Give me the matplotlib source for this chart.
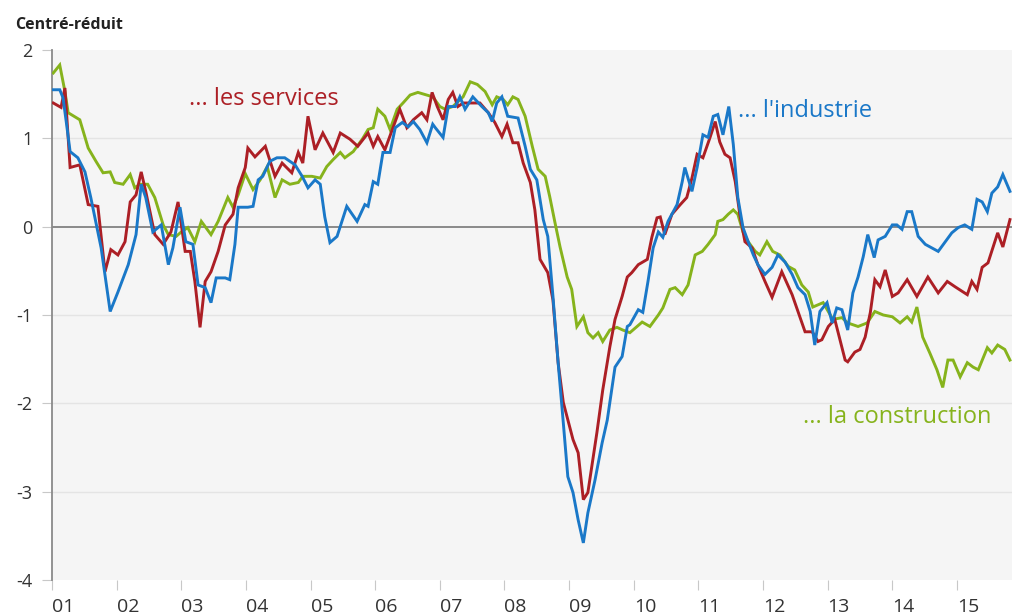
import matplotlib
matplotlib.use("Agg")
import matplotlib.pyplot as plt
import numpy as np

# ---- data (decimal years, centred-reduced values) ----
services_t = [2001.02, 2001.14, 2001.20, 2001.28, 2001.43, 2001.56, 2001.71, 2001.82, 2001.91, 2002.02,
              2002.13, 2002.21, 2002.30, 2002.38, 2002.45, 2002.59, 2002.72, 2002.84, 2002.95, 2003.06,
              2003.14, 2003.21, 2003.29, 2003.37, 2003.46, 2003.57, 2003.68, 2003.80, 2003.88, 2003.99,
              2004.03, 2004.14, 2004.30, 2004.45, 2004.56, 2004.71, 2004.81, 2004.88, 2004.96, 2005.07,
              2005.19, 2005.35, 2005.46, 2005.61, 2005.73, 2005.89, 2005.97, 2006.04, 2006.15, 2006.28,
              2006.38, 2006.49, 2006.59, 2006.72, 2006.80, 2006.88, 2006.96, 2007.05, 2007.13, 2007.20,
              2007.28, 2007.36, 2007.47, 2007.62, 2007.75, 2007.85, 2007.96, 2008.04, 2008.13, 2008.21,
              2008.29, 2008.40, 2008.47, 2008.55, 2008.67, 2008.75, 2008.83, 2008.91, 2009.06, 2009.14,
              2009.22, 2009.29, 2009.43, 2009.52, 2009.63, 2009.71, 2009.82, 2009.90, 2009.97, 2010.07,
              2010.21, 2010.28, 2010.36, 2010.41, 2010.48, 2010.59, 2010.72, 2010.82, 2010.90, 2010.98,
              2011.07, 2011.18, 2011.26, 2011.33, 2011.41, 2011.49, 2011.57, 2011.64, 2011.72, 2011.83,
              2011.92, 2012.03, 2012.14, 2012.29, 2012.45, 2012.54, 2012.65, 2012.76, 2012.85, 2012.91,
              2013.01, 2013.11, 2013.19, 2013.27, 2013.31, 2013.42, 2013.50, 2013.58, 2013.66, 2013.73,
              2013.81, 2013.89, 2014.00, 2014.09, 2014.23, 2014.38, 2014.55, 2014.71, 2014.85, 2014.97,
              2015.16, 2015.23, 2015.31, 2015.39, 2015.48, 2015.63, 2015.71, 2015.82]
services_v = [1.40, 1.35, 1.57, 0.67, 0.70, 0.25, 0.23, -0.51, -0.26, -0.32,
              -0.17, 0.28, 0.36, 0.62, 0.40, -0.09, -0.20, -0.06, 0.28, -0.28,
              -0.28, -0.62, -1.14, -0.62, -0.51, -0.28, 0.02, 0.14, 0.44, 0.67,
              0.89, 0.79, 0.91, 0.57, 0.72, 0.61, 0.84, 0.72, 1.25, 0.87,
              1.06, 0.84, 1.06, 0.99, 0.91, 1.06, 0.91, 1.02, 0.87, 1.13,
              1.33, 1.12, 1.21, 1.29, 1.21, 1.52, 1.36, 1.21, 1.44, 1.52,
              1.36, 1.40, 1.40, 1.40, 1.29, 1.18, 1.02, 1.16, 0.95, 0.95,
              0.72, 0.50, 0.19, -0.37, -0.52, -0.83, -1.54, -1.99, -2.41, -2.56,
              -3.09, -3.01, -2.33, -1.85, -1.36, -1.05, -0.79, -0.57, -0.52, -0.43,
              -0.37, -0.12, 0.10, 0.11, -0.09, 0.14, 0.25, 0.33, 0.55, 0.82,
              0.78, 1.01, 1.19, 0.96, 0.82, 0.78, 0.51, 0.14, -0.17, -0.24,
              -0.43, -0.62, -0.80, -0.51, -0.77, -0.96, -1.19, -1.19, -1.30, -1.28,
              -1.13, -1.05, -1.28, -1.51, -1.53, -1.42, -1.39, -1.25, -0.97, -0.60,
              -0.68, -0.49, -0.79, -0.75, -0.60, -0.79, -0.57, -0.75, -0.62, -0.68,
              -0.77, -0.62, -0.71, -0.46, -0.41, -0.07, -0.23, 0.08]

industrie_t = [2001.02, 2001.12, 2001.17, 2001.22, 2001.28, 2001.40, 2001.51, 2001.60, 2001.76, 2001.90,
               2002.02, 2002.18, 2002.30, 2002.38, 2002.45, 2002.56, 2002.69, 2002.80, 2002.87, 2002.98,
               2003.07, 2003.18, 2003.26, 2003.37, 2003.46, 2003.54, 2003.68, 2003.75, 2003.83, 2003.88,
               2004.03, 2004.11, 2004.19, 2004.26, 2004.37, 2004.48, 2004.60, 2004.76, 2004.87, 2004.96,
               2005.07, 2005.15, 2005.22, 2005.30, 2005.41, 2005.56, 2005.72, 2005.84, 2005.89, 2005.97,
               2006.04, 2006.12, 2006.23, 2006.31, 2006.42, 2006.51, 2006.59, 2006.69, 2006.80, 2006.89,
               2006.93, 2007.05, 2007.13, 2007.24, 2007.31, 2007.39, 2007.51, 2007.65, 2007.75, 2007.81,
               2007.88, 2007.96, 2008.05, 2008.21, 2008.32, 2008.40, 2008.50, 2008.60, 2008.67, 2008.75,
               2008.83, 2008.91, 2008.98, 2009.06, 2009.14, 2009.22, 2009.29, 2009.40, 2009.51, 2009.59,
               2009.71, 2009.82, 2009.90, 2009.94, 2010.07, 2010.14, 2010.22, 2010.30, 2010.38, 2010.45,
               2010.53, 2010.67, 2010.75, 2010.79, 2010.90, 2010.98, 2011.07, 2011.15, 2011.23, 2011.30,
               2011.38, 2011.47, 2011.54, 2011.61, 2011.69, 2011.77, 2011.85, 2011.92, 2012.03, 2012.14,
               2012.23, 2012.34, 2012.45, 2012.54, 2012.65, 2012.73, 2012.80, 2012.88, 2012.99, 2013.07,
               2013.14, 2013.22, 2013.31, 2013.39, 2013.47, 2013.55, 2013.62, 2013.72, 2013.78, 2013.89,
               2014.00, 2014.07, 2014.15, 2014.23, 2014.30, 2014.40, 2014.51, 2014.61, 2014.71, 2014.82,
               2014.92, 2015.02, 2015.12, 2015.23, 2015.31, 2015.39, 2015.47, 2015.54, 2015.63, 2015.71,
               2015.82]
industrie_v = [1.55, 1.55, 1.46, 1.19, 0.85, 0.78, 0.62, 0.33, -0.24, -0.96,
               -0.74, -0.43, -0.09, 0.48, 0.33, -0.06, 0.02, -0.43, -0.24, 0.22,
               -0.17, -0.20, -0.66, -0.69, -0.86, -0.58, -0.58, -0.60, -0.20, 0.22,
               0.22, 0.23, 0.53, 0.57, 0.74, 0.78, 0.78, 0.70, 0.57, 0.44,
               0.53, 0.48, 0.11, -0.18, -0.11, 0.23, 0.06, 0.25, 0.23, 0.51,
               0.48, 0.84, 0.84, 1.12, 1.18, 1.13, 1.19, 1.10, 0.95, 1.16,
               1.12, 1.01, 1.36, 1.36, 1.47, 1.33, 1.47, 1.36, 1.29, 1.19,
               1.40, 1.47, 1.25, 1.23, 0.91, 0.65, 0.53, 0.08, -0.11, -0.79,
               -1.54, -2.22, -2.83, -3.01, -3.32, -3.58, -3.24, -2.87, -2.45, -2.19,
               -1.59, -1.47, -1.13, -1.11, -0.94, -0.97, -0.62, -0.24, -0.06, -0.12,
               0.06, 0.25, 0.51, 0.67, 0.40, 0.67, 1.04, 1.01, 1.25, 1.27,
               1.04, 1.36, 0.93, 0.33, -0.01, -0.17, -0.32, -0.43, -0.54, -0.46,
               -0.32, -0.40, -0.54, -0.69, -0.77, -0.96, -1.34, -0.96, -0.86, -1.09,
               -0.92, -0.94, -1.17, -0.75, -0.57, -0.34, -0.09, -0.35, -0.15, -0.11,
               0.02, 0.02, -0.03, 0.17, 0.17, -0.11, -0.20, -0.24, -0.28, -0.17,
               -0.07, -0.01, 0.02, -0.03, 0.31, 0.28, 0.17, 0.38, 0.45, 0.59,
               0.40]

construction_t = [2001.02, 2001.12, 2001.20, 2001.25, 2001.43, 2001.56, 2001.68, 2001.79, 2001.90, 2001.97,
                  2002.10, 2002.21, 2002.28, 2002.36, 2002.48, 2002.59, 2002.72, 2002.80, 2002.92, 2003.00,
                  2003.10, 2003.21, 2003.31, 2003.46, 2003.57, 2003.72, 2003.80, 2003.88, 2003.99, 2004.11,
                  2004.22, 2004.33, 2004.45, 2004.56, 2004.68, 2004.81, 2004.88, 2005.02, 2005.15, 2005.25,
                  2005.35, 2005.46, 2005.53, 2005.66, 2005.80, 2005.89, 2005.97, 2006.04, 2006.15, 2006.23,
                  2006.34, 2006.43, 2006.54, 2006.66, 2006.80, 2006.89, 2007.00, 2007.08, 2007.20, 2007.36,
                  2007.47, 2007.58, 2007.70, 2007.81, 2007.88, 2007.98, 2008.05, 2008.13, 2008.21, 2008.32,
                  2008.43, 2008.52, 2008.63, 2008.70, 2008.78, 2008.86, 2008.97, 2009.04, 2009.12, 2009.22,
                  2009.29, 2009.37, 2009.45, 2009.52, 2009.63, 2009.74, 2009.83, 2009.94, 2010.13, 2010.25,
                  2010.38, 2010.45, 2010.56, 2010.64, 2010.75, 2010.84, 2010.95, 2011.06, 2011.15, 2011.26,
                  2011.30, 2011.38, 2011.46, 2011.54, 2011.61, 2011.69, 2011.77, 2011.88, 2011.95, 2012.06,
                  2012.15, 2012.26, 2012.39, 2012.49, 2012.60, 2012.70, 2012.77, 2012.93, 2013.08, 2013.22,
                  2013.31, 2013.47, 2013.61, 2013.73, 2013.86, 2014.00, 2014.12, 2014.23, 2014.30, 2014.38,
                  2014.47, 2014.58, 2014.69, 2014.78, 2014.86, 2014.94, 2015.05, 2015.16, 2015.25, 2015.33,
                  2015.47, 2015.54, 2015.63, 2015.74, 2015.82]
construction_v = [1.74, 1.83, 1.53, 1.29, 1.21, 0.89, 0.74, 0.61, 0.62, 0.50,
                  0.48, 0.59, 0.44, 0.48, 0.48, 0.33, 0.02, -0.09, -0.11, -0.06,
                  -0.01, -0.17, 0.06, -0.09, 0.06, 0.33, 0.22, 0.36, 0.60, 0.42,
                  0.53, 0.68, 0.33, 0.53, 0.48, 0.50, 0.57, 0.57, 0.55, 0.68,
                  0.76, 0.84, 0.78, 0.85, 0.99, 1.10, 1.12, 1.33, 1.25, 1.10,
                  1.33, 1.40, 1.49, 1.52, 1.49, 1.47, 1.36, 1.33, 1.36, 1.47,
                  1.64, 1.61, 1.53, 1.38, 1.47, 1.44, 1.38, 1.47, 1.44, 1.25,
                  0.91, 0.65, 0.57, 0.34, 0.05, -0.23, -0.57, -0.71, -1.13, -1.02,
                  -1.20, -1.26, -1.20, -1.30, -1.17, -1.14, -1.17, -1.20, -1.08, -1.13,
                  -1.00, -0.92, -0.71, -0.69, -0.77, -0.66, -0.32, -0.28, -0.20, -0.09,
                  0.06, 0.08, 0.14, 0.19, 0.14, -0.06, -0.17, -0.28, -0.32, -0.17,
                  -0.28, -0.32, -0.45, -0.49, -0.66, -0.74, -0.91, -0.86, -1.05, -1.03,
                  -1.09, -1.13, -1.09, -0.96, -1.00, -1.02, -1.09, -1.02, -1.08, -0.91,
                  -1.25, -1.43, -1.62, -1.82, -1.51, -1.51, -1.70, -1.54, -1.59, -1.62,
                  -1.37, -1.43, -1.34, -1.39, -1.51]

year_ticks = list(range(2001, 2016))
year_labels = ["01", "02", "03", "04", "05", "06", "07", "08", "09", "10",
               "11", "12", "13", "14", "15"]
y_ticks = [-4, -3, -2, -1, 0, 1, 2]

labels = {"services": "... les services", "industrie": "... l'industrie",
          "construction": "... la construction"}

# ---- style ----
RED = "#ac1f25"
BLUE = "#1a78c8"
GREEN = "#86b31c"
FONT = ["Open Sans", "DejaVu Sans"]
plt.rcParams["font.family"] = FONT

fig = plt.figure(figsize=(10.14, 6.15), dpi=100)
fig.patch.set_facecolor("white")
ax = fig.add_axes([52 / 1014, 1 - 580 / 615, 960 / 1014, 530 / 615])
ax.set_facecolor("#f5f5f5")

ax.set_xlim(2001, 2001 + 960 / 64.64)
ax.set_ylim(-4, 2)

for y in y_ticks:
    if y in (-4, 2):
        continue
    if y == 0:
        ax.axhline(0, color="#8a8a8a", lw=1.4, zorder=2)
    else:
        ax.axhline(y, color="#e4e4e4", lw=1.0, zorder=1)

ax.plot(construction_t, construction_v, color=GREEN, lw=2.1, zorder=3, solid_joinstyle="miter")
ax.plot(services_t, services_v, color=RED, lw=2.1, zorder=4, solid_joinstyle="miter")
ax.plot(industrie_t, industrie_v, color=BLUE, lw=2.1, zorder=5, solid_joinstyle="miter")

for s in ["top", "right", "bottom"]:
    ax.spines[s].set_visible(False)
ax.spines["left"].set_color("#8a8a8a")
ax.spines["left"].set_linewidth(1.3)

ax.set_yticks(y_ticks)
ax.set_yticklabels([str(v) for v in y_ticks])
ax.set_xticks(year_ticks)
ax.set_xticklabels(year_labels, ha="left")
ax.tick_params(axis="y", length=7, width=0.8, color="#c8c8c8", pad=7,
               labelsize=13, labelcolor="#333333")
ax.tick_params(axis="x", length=7, width=0.8, color="#c8c8c8", pad=6,
               labelsize=14, labelcolor="#333333")

ax.text(2003.12, 1.45, labels["services"], color=RED, fontsize=17, ha="left", va="center")
ax.text(2011.61, 1.31, labels["industrie"], color=BLUE, fontsize=17, ha="left", va="center")
ax.text(2012.62, -2.15, labels["construction"], color=GREEN, fontsize=17, ha="left", va="center")

fig.text(15 / 1014, 1 - 25 / 615, "Centré-réduit", fontsize=11.5, fontweight="bold",
         color="#222222", ha="left", va="center")

fig.savefig("out.png", dpi=100, facecolor="white")
